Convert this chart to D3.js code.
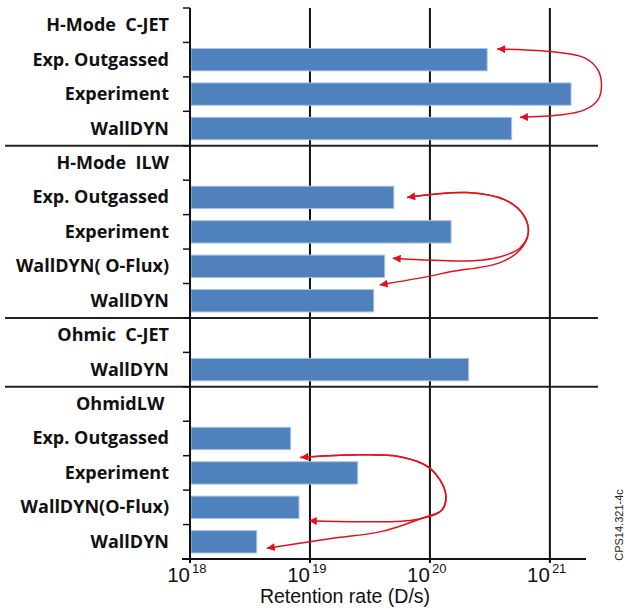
<!DOCTYPE html>
<html>
<head>
<meta charset="utf-8">
<script src="https://cdn.jsdelivr.net/npm/d3@7"></script>
<style>
  html, body { margin: 0; padding: 0; background: #fff; }
  svg { display: block; }
  text { white-space: pre; }
</style>
</head>
<body>
<svg id="chart" width="625" height="611"></svg>
<script>
// Row labels, top to bottom (group headers carry no bar)
const rowLabels = [
  "H-Mode  C-JET", "Exp. Outgassed", "Experiment", "WallDYN",
  "H-Mode  ILW", "Exp. Outgassed", "Experiment", "WallDYN( O-Flux)", "WallDYN",
  "Ohmic  C-JET", "WallDYN",
  "OhmidLW ", "Exp. Outgassed", "Experiment", "WallDYN(O-Flux)", "WallDYN"
];
// Retention rate in D/s for each row (null = group header)
const retentionRates = [
  null, 3.0e20, 1.5e21, 4.8e20,
  null, 5.0e19, 1.5e20, 4.2e19, 3.4e19,
  null, 2.1e20,
  null, 6.9e18, 2.5e19, 8.1e18, 3.6e18
];
// Rows after which a group ends
const groupEnds = [3, 8, 10];
// Decade ticks on the x axis (exponents of ten)
const tickExponents = [18, 19, 20, 21];
const axisTitle = "Retention rate (D/s)";
const figureTag = "CPS14.321-4c";

// Red comparison arrows, as [log10(rate), row position] anchor points
const arrowPaths = [
  { both: true, pts: [[20.56,1.19],[21.04,1.28],[21.29,1.45],[21.40,1.80],[21.43,2.24],[21.40,2.67],[21.29,2.96],[21.08,3.11],[20.75,3.17]] },
  { both: true, pts: [[19.81,5.50],[20.31,5.36],[20.63,5.58],[20.78,6.01],[20.82,6.53],[20.75,6.97],[20.58,7.23],[20.36,7.34],[19.69,7.27]] },
  { both: false, pts: [[19.81,5.50],[20.31,5.36],[20.63,5.58],[20.78,6.01],[20.82,6.53],[20.75,7.03],[20.58,7.40],[20.17,7.66],[19.98,7.80],[19.58,8.04]] },
  { both: true, pts: [[18.92,13.05],[19.33,12.98],[19.75,13.03],[20.00,13.36],[20.13,14.08],[20.10,14.58],[19.89,14.85],[19.47,14.92],[18.99,14.89]] },
  { both: false, pts: [[18.92,13.05],[19.33,12.98],[19.75,13.03],[20.00,13.36],[20.13,14.08],[20.10,14.58],[19.97,14.77],[19.61,15.19],[19.19,15.40],[18.64,15.69]] }
];

const svg = d3.select("#chart");
const plotTop = 8, plotBottom = 559, plotLeft = 190, plotRight = 586;

const x = d3.scaleLog().domain([1e18, 2e21]).range([plotLeft, plotRight]);
const y = d3.scaleBand().domain(d3.range(rowLabels.length))
  .range([plotTop, plotBottom]).paddingInner(0.35).paddingOuter(0.175);
const step = y.step();
const rowPos = s => plotTop + s * step;

// Vertical decade gridlines
svg.append("g").selectAll("line")
  .data(tickExponents.slice(1))
  .join("line")
  .attr("x1", d => x(Math.pow(10, d))).attr("x2", d => x(Math.pow(10, d)))
  .attr("y1", plotTop).attr("y2", plotBottom + 4)
  .attr("stroke", "#111").attr("stroke-width", 2);

// Group separators
svg.append("g").selectAll("line")
  .data(groupEnds)
  .join("line")
  .attr("x1", 5).attr("x2", 598)
  .attr("y1", d => rowPos(d + 1)).attr("y2", d => rowPos(d + 1))
  .attr("stroke", "#222").attr("stroke-width", 2);

// Bars
svg.append("g").selectAll("rect")
  .data(retentionRates.map((v, i) => ({ v, i })).filter(d => d.v !== null))
  .join("rect")
  .attr("x", x(1e18) + 1)
  .attr("y", d => y(d.i))
  .attr("width", d => x(d.v) - x(1e18) - 1)
  .attr("height", y.bandwidth())
  .attr("fill", "#4F81BD")
  .attr("stroke", "#A9C2E3").attr("stroke-width", 1);

// Y axis line and ticks at row boundaries
svg.append("line")
  .attr("x1", plotLeft).attr("x2", plotLeft)
  .attr("y1", plotTop).attr("y2", plotBottom + 4)
  .attr("stroke", "#111").attr("stroke-width", 2);
svg.append("g").selectAll("line")
  .data(d3.range(rowLabels.length + 1))
  .join("line")
  .attr("x1", plotLeft - 7).attr("x2", plotLeft)
  .attr("y1", d => rowPos(d)).attr("y2", d => rowPos(d))
  .attr("stroke", "#111").attr("stroke-width", 1.5);

// X axis line
svg.append("line")
  .attr("x1", plotLeft - 8).attr("x2", plotRight)
  .attr("y1", plotBottom).attr("y2", plotBottom)
  .attr("stroke", "#111").attr("stroke-width", 2);

// Row labels
svg.append("g").selectAll("text")
  .data(rowLabels)
  .join("text")
  .attr("x", 169)
  .attr("y", (d, i) => y(i) + y.bandwidth() / 2 + 6)
  .attr("text-anchor", "end")
  .attr("font-family", "'Open Sans', 'Noto Sans', sans-serif")
  .attr("font-weight", "bold")
  .attr("font-size", 18)
  .attr("fill", "#111")
  .text(d => d);

// Decade tick labels: 10 with superscript exponent
const tl = svg.append("g").selectAll("text")
  .data(tickExponents)
  .join("text")
  .attr("transform", d => `translate(${x(Math.pow(10, d))},0)`)
  .attr("font-family", "'Liberation Sans', Arial, sans-serif")
  .attr("fill", "#111");
tl.append("tspan")
  .attr("x", 0).attr("y", 581.5)
  .attr("text-anchor", "end")
  .attr("font-size", 20.5)
  .text("10");
tl.append("tspan")
  .attr("x", 2).attr("y", 573)
  .attr("text-anchor", "start")
  .attr("font-size", 13)
  .text(d => d);

// Axis title
svg.append("text")
  .attr("x", 345).attr("y", 603)
  .attr("text-anchor", "middle")
  .attr("font-family", "'Liberation Sans', Arial, sans-serif")
  .attr("font-size", 19.5)
  .attr("fill", "#111")
  .text(axisTitle);

// Figure tag on the right edge
svg.append("text")
  .attr("transform", "translate(622.5,525) rotate(-90)")
  .attr("text-anchor", "middle")
  .attr("font-family", "'Liberation Sans', Arial, sans-serif")
  .attr("font-size", 11)
  .attr("fill", "#222")
  .text(figureTag);

// Arrowhead marker
svg.append("defs").append("marker")
  .attr("id", "head")
  .attr("viewBox", "0 0 10 10")
  .attr("refX", 10).attr("refY", 5)
  .attr("markerUnits", "userSpaceOnUse")
  .attr("markerWidth", 10).attr("markerHeight", 8)
  .attr("orient", "auto-start-reverse")
  .append("path")
  .attr("d", "M0,0 L10,5 L0,10 Z")
  .attr("fill", "#E3101C");

const arrowLine = d3.line()
  .x(p => x(Math.pow(10, p[0])))
  .y(p => rowPos(p[1]))
  .curve(d3.curveCatmullRom.alpha(0.5));

svg.append("g").selectAll("path")
  .data(arrowPaths)
  .join("path")
  .attr("d", d => arrowLine(d.pts))
  .attr("fill", "none")
  .attr("stroke", "#E3101C")
  .attr("stroke-width", 1.5)
  .attr("marker-start", d => d.both ? "url(#head)" : null)
  .attr("marker-end", "url(#head)");
</script>
</body>
</html>
